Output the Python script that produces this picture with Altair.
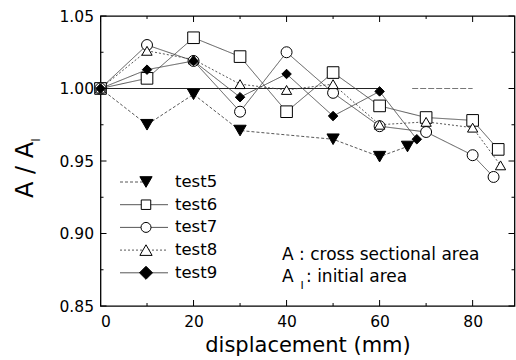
import altair as alt
import pandas as pd

# ---- data ----
series = ["test5", "test6", "test7", "test8", "test9"]

x5 = [0, 10, 20, 30, 50, 60, 66]
y5 = [1.000, 0.975, 0.996, 0.971, 0.965, 0.953, 0.960]

x6 = [0, 10, 20, 30, 40, 50, 60, 70, 80, 85.5]
y6 = [1.000, 1.007, 1.035, 1.022, 0.984, 1.011, 0.988, 0.980, 0.978, 0.958]

x7 = [0, 10, 20, 30, 40, 50, 60, 70, 80, 84.5]
y7 = [1.000, 1.030, 1.019, 0.984, 1.025, 0.997, 0.974, 0.970, 0.954, 0.939]

x8 = [0, 10, 20, 30, 40, 50, 60, 70, 80, 86]
y8 = [1.000, 1.026, 1.020, 1.003, 0.999, 1.003, 0.975, 0.977, 0.973, 0.947]

x9 = [0, 10, 20, 30, 40, 50, 60, 68]
y9 = [1.000, 1.013, 1.019, 0.994, 1.010, 0.981, 0.998, 0.965]

ref_solid_x = [0, 60]
ref_dash_x = [67, 80]
ref_y = 1.0

x_major = [0, 20, 40, 60, 80]
x_minor = [10, 30, 50, 70]
y_major = [0.85, 0.90, 0.95, 1.00, 1.05]
y_minor = [0.875, 0.925, 0.975, 1.025]

x_title = "displacement (mm)"
note1 = "A : cross sectional area"
note2 = ": initial area"

# ---- build table ----
rows = []
for name, xs, ys in zip(series, [x5, x6, x7, x8, x9], [y5, y6, y7, y8, y9]):
    for xv, yv in zip(xs, ys):
        rows.append({"series": name, "x": xv, "y": yv})
df = pd.DataFrame(rows)

FONT = "DejaVu Sans"
W, H = 414, 290
xs_ = alt.Scale(domain=[0, 89], nice=False, zero=False)
ys_ = alt.Scale(domain=[0.85, 1.05], nice=False, zero=False)

shapes = ["triangle-down", "square", "circle", "triangle-up", "diamond"]
fills = ["black", "white", "white", "white", "black"]
sizes = [150, 90, 100, 150, 170]
dashes = [[3, 2], [1, 0], [1, 0], [2, 2], [1, 0]]

shape_scale = alt.Scale(domain=series, range=shapes)
fill_scale = alt.Scale(domain=series, range=fills)
size_scale = alt.Scale(domain=series, range=sizes)
dash_scale = alt.Scale(domain=series, range=dashes)

xaxis = alt.Axis(values=x_major, ticks=False, domain=False, grid=False,
                 labelFont=FONT, labelFontSize=15.5, labelColor="black",
                 labelPadding=8, title=x_title, titleFont=FONT,
                 titleFontSize=21, titleFontWeight="normal", titleColor="black",
                 titlePadding=5)
yaxis = alt.Axis(values=y_major, format=".2f", ticks=False, domain=False,
                 grid=False, labelFont=FONT, labelFontSize=15.5,
                 labelColor="black", labelPadding=7, title=None)

base = alt.Chart(df)

lines = base.mark_line(color="#444", strokeWidth=0.9).encode(
    x=alt.X("x:Q", scale=xs_, axis=xaxis),
    y=alt.Y("y:Q", scale=ys_, axis=yaxis),
    detail="series:N",
    strokeDash=alt.StrokeDash("series:N", scale=dash_scale, legend=None),
)

points = base.mark_point(filled=True, stroke="black", strokeWidth=1,
                         opacity=1).encode(
    x=alt.X("x:Q", scale=xs_),
    y=alt.Y("y:Q", scale=ys_),
    shape=alt.Shape("series:N", scale=shape_scale, legend=None),
    fill=alt.Fill("series:N", scale=fill_scale, legend=None),
    size=alt.Size("series:N", scale=size_scale, legend=None),
)

ref1 = alt.Chart(pd.DataFrame({"x": [ref_solid_x[0]], "x2": [ref_solid_x[1]], "y": [ref_y]})).mark_rule(
    color="#222", strokeWidth=1.2).encode(
    x=alt.X("x:Q", scale=xs_), x2="x2:Q", y=alt.Y("y:Q", scale=ys_))
ref2 = alt.Chart(pd.DataFrame({"x": [ref_dash_x[0]], "x2": [ref_dash_x[1]], "y": [ref_y]})).mark_rule(
    color="#777", strokeWidth=1.2, strokeDash=[6, 2]).encode(
    x=alt.X("x:Q", scale=xs_), x2="x2:Q", y=alt.Y("y:Q", scale=ys_))

# ---- inward ticks on all four sides ----
tick_layers = []
for vals, ln in [(x_major, 6), (x_minor, 3)]:
    d = pd.DataFrame({"t": vals})
    tick_layers.append(alt.Chart(d).mark_rule(color="black", strokeWidth=1).encode(
        x=alt.X("t:Q", scale=xs_), y=alt.value(H), y2=alt.value(H - ln)))
    tick_layers.append(alt.Chart(d).mark_rule(color="black", strokeWidth=1).encode(
        x=alt.X("t:Q", scale=xs_), y=alt.value(0), y2=alt.value(ln)))
for vals, ln in [(y_major, 6), (y_minor, 3)]:
    d = pd.DataFrame({"t": vals})
    tick_layers.append(alt.Chart(d).mark_rule(color="black", strokeWidth=1).encode(
        y=alt.Y("t:Q", scale=ys_), x=alt.value(0), x2=alt.value(ln)))
    tick_layers.append(alt.Chart(d).mark_rule(color="black", strokeWidth=1).encode(
        y=alt.Y("t:Q", scale=ys_), x=alt.value(W), x2=alt.value(W - ln)))

# ---- hand-built legend ----
legend_layers = []
LY0, LDY = 166, 22.7
for i, name in enumerate(series):
    ly = LY0 + LDY * i
    one = pd.DataFrame({"series": [name]})
    x_end = 45.5 if name == "test5" else 67.5
    legend_layers.append(alt.Chart(one).mark_rule(
        color="#444", strokeWidth=0.9, strokeDash=dashes[i]).encode(
        x=alt.value(19.5), x2=alt.value(x_end), y=alt.value(ly)))
    legend_layers.append(alt.Chart(one).mark_point(
        filled=True, stroke="black", strokeWidth=1, opacity=1,
        shape=shapes[i], fill=fills[i], size=sizes[i]).encode(
        x=alt.value(45.5), y=alt.value(ly)))
    legend_layers.append(alt.Chart(one).mark_text(
        align="left", baseline="middle", font=FONT, fontSize=16.5,
        color="black").encode(
        x=alt.value(74.5), y=alt.value(ly), text="series:N"))

# ---- annotations ----
txt = pd.DataFrame({"a": ["A"], "n1": [note1], "n2": [note2], "s": ["I"],
                    "yt": ["A / A"]})
ann = [
    alt.Chart(txt).mark_text(align="left", baseline="alphabetic", font=FONT,
                             fontSize=17, color="black").encode(
        x=alt.value(181.5), y=alt.value(244), text="n1:N"),
    alt.Chart(txt).mark_text(align="left", baseline="alphabetic", font=FONT,
                             fontSize=17, color="black").encode(
        x=alt.value(181.5), y=alt.value(266), text="a:N"),
    alt.Chart(txt).mark_text(align="center", baseline="alphabetic", font=FONT,
                             fontSize=11, color="black").encode(
        x=alt.value(201.5), y=alt.value(273), text="s:N"),
    alt.Chart(txt).mark_text(align="left", baseline="alphabetic", font=FONT,
                             fontSize=17, color="black").encode(
        x=alt.value(205.5), y=alt.value(266), text="n2:N"),
    # y-axis title "A / A_I"
    alt.Chart(txt).mark_text(align="center", baseline="alphabetic", font=FONT,
                             fontSize=24, angle=270, color="black").encode(
        x=alt.value(-67.5), y=alt.value(154), text="yt:N"),
    alt.Chart(txt).mark_text(align="center", baseline="alphabetic", font=FONT,
                             fontSize=12, angle=270, color="black").encode(
        x=alt.value(-60.5), y=alt.value(124), text="s:N"),
]

chart = alt.layer(
    ref1, ref2, lines, points, *tick_layers, *legend_layers, *ann
).properties(
    width=W, height=H, autosize="none",
    padding={"left": 100.5, "top": 16, "right": 1.5, "bottom": 54},
    background="white",
).configure_view(stroke="black", strokeWidth=1.3)

chart.save("out.html", embed_options={"renderer": "svg", "actions": False})
